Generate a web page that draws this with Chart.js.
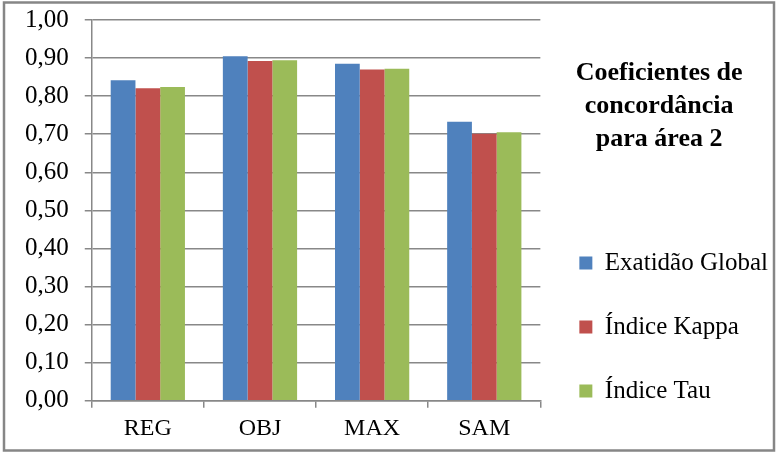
<!DOCTYPE html>
<html>
<head>
<meta charset="utf-8">
<script src="https://cdn.jsdelivr.net/npm/chart.js@4.4.1/dist/chart.umd.min.js"></script>
<style>
  html, body { margin: 0; padding: 0; background: #ffffff; }
  #wrap { width: 778px; height: 454px; position: relative; }
</style>
</head>
<body>
<div id="wrap"><canvas id="c" width="778" height="454"></canvas></div>
<script>
const categories = ['REG', 'OBJ', 'MAX', 'SAM'];
const exatidaoGlobal = [0.842, 0.905, 0.885, 0.733];
const indiceKappa = [0.821, 0.892, 0.870, 0.701];
const indiceTau = [0.824, 0.894, 0.872, 0.705];
const seriesNames = ['Exatidão Global', 'Índice Kappa', 'Índice Tau'];
const yTickLabels = ['0,00', '0,10', '0,20', '0,30', '0,40', '0,50', '0,60', '0,70', '0,80', '0,90', '1,00'];
const titleLines = ['Coeficientes de', 'concordância', 'para área 2'];

const GRID = '#888888';
const FONT = '"Liberation Serif", "Times New Roman", serif';

const frame = {
  id: 'frame',
  beforeDraw(chart) {
    const ctx = chart.ctx;
    ctx.save();
    ctx.fillStyle = '#ffffff';
    ctx.fillRect(0, 0, chart.width, chart.height);
    ctx.strokeStyle = '#868686';
    ctx.lineWidth = 2.5;
    ctx.strokeRect(4, 2.5, chart.width - 8, chart.height - 6);
    ctx.restore();
  }
};

new Chart(document.getElementById('c'), {
  type: 'bar',
  data: {
    labels: categories,
    datasets: [
      { label: seriesNames[0], data: exatidaoGlobal, backgroundColor: '#4F81BD' },
      { label: seriesNames[1], data: indiceKappa, backgroundColor: '#C0504D' },
      { label: seriesNames[2], data: indiceTau, backgroundColor: '#9BBB59' }
    ]
  },
  options: {
    responsive: false,
    animation: false,
    devicePixelRatio: 1,
    layout: { padding: { left: 9, top: 20, right: 0, bottom: 3.5 } },
    datasets: { bar: { categoryPercentage: 0.662, barPercentage: 1.0 } },
    scales: {
      x: {
        grid: { display: true, drawOnChartArea: false, drawTicks: true, tickLength: 7, color: GRID, lineWidth: 1.5, offset: true },
        border: { display: true, color: GRID, width: 1.5 },
        ticks: { color: '#000', padding: 7, font: { family: FONT, size: 24 } }
      },
      y: {
        min: 0, max: 1,
        grid: { color: GRID, lineWidth: 1.5, tickLength: 7, drawTicks: true },
        border: { display: true, color: GRID, width: 1.5 },
        afterFit: (s) => { s.paddingTop = 0; s.paddingBottom = 0; },
        ticks: {
          stepSize: 0.1,
          padding: 16,
          color: '#000',
          font: { family: FONT, size: 25 },
          callback: (v, i) => yTickLabels[i]
        }
      }
    },
    plugins: {
      tooltip: { enabled: false },
      legend: {
        position: 'right',
        align: 'center',
        maxWidth: 240,
        title: {
          display: true,
          text: titleLines,
          color: '#000',
          position: 'center',
          padding: { top: 32, bottom: 118.5 },
          font: { family: FONT, size: 26, weight: 'bold', lineHeight: 1.27 }
        },
        labels: {
          boxWidth: 13,
          boxHeight: 13,
          padding: 39,
          color: '#000',
          font: { family: FONT, size: 25 }
        }
      }
    }
  },
  plugins: [frame]
});
</script>
</body>
</html>
